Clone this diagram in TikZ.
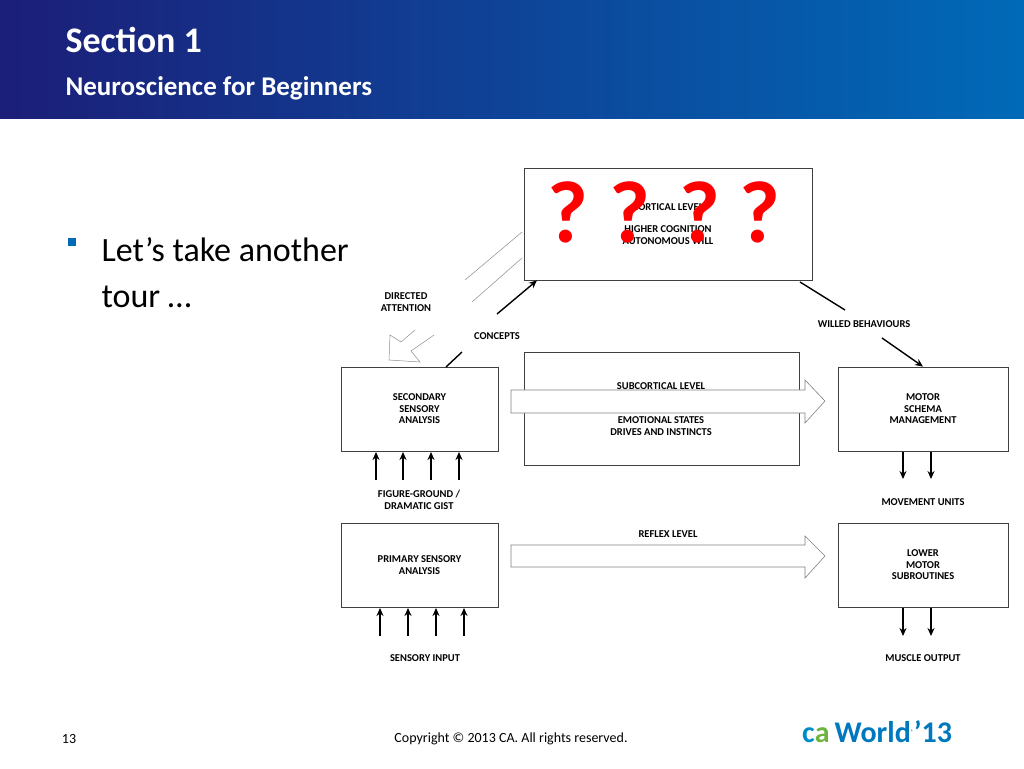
\documentclass[tikz,border=0pt]{standalone}
\usepackage{fontspec}
\setmainfont{Carlito}
\usetikzlibrary{arrows.meta}
\begin{document}
\begin{tikzpicture}[x=1pt,y=-1pt,
 box/.style={draw=black!75,line width=0.8pt},
 lbl/.style={font=\fontsize{10.5}{11.5}\selectfont\bfseries,align=center,inner sep=1pt},
 tip/.style={-{Stealth[length=8pt,width=7pt]},line width=1.4pt},
 small/.style={tip},
 hollow/.style={draw=black!50,fill=white,line width=0.6pt}]
\useasboundingbox (0,0) rectangle (1024,768);
\shade[left color={rgb,255:red,28;green,30;blue,120}, right color={rgb,255:red,0;green,106;blue,184}] (0,0) rectangle (1024,118);
\node[anchor=west,text=white,font=\fontsize{36}{40}\selectfont\bfseries] (t1) at (62,40) {Section 1};
\node[anchor=west,text=white,font=\fontsize{27}{30}\selectfont\bfseries] (t2) at (62,88) {Neuroscience for Beginners};
\fill[fill={rgb,255:red,0;green,106;blue,184}] (68,238) rectangle (76,246);
\node[anchor=north west,align=left,font=\fontsize{34}{46}\selectfont] (bul) at (98,234) {Let’s take another\\tour …};
% boxes
\node[box,minimum width=288,minimum height=112] (cort) at (668,224) {};
\node[lbl] (cortt) at (668,207) {CORTICAL LEVEL};
\node[lbl] (cortt2) at (668,235) {HIGHER COGNITION\\AUTONOMOUS WILL};
\node[box,minimum width=157,minimum height=84,lbl] (sec) at (419.5,409) {SECONDARY\\SENSORY\\ANALYSIS};
\node[box,minimum width=275,minimum height=113] (sub) at (661.5,408.5) {};
\node[box,minimum width=170,minimum height=84,lbl] (mot) at (923,409) {MOTOR\\SCHEMA\\MANAGEMENT};
\node[box,minimum width=157,minimum height=84,lbl] (pri) at (419.5,565) {PRIMARY SENSORY\\ANALYSIS};
\node[box,minimum width=170,minimum height=84,lbl] (low) at (923,565) {LOWER\\MOTOR\\SUBROUTINES};
% hollow arrows
\draw[hollow] (511,390) -- (805,390) -- (805,380) -- (825,401) -- (805,423) -- (805,413) -- (511,413) -- cycle;
\node[lbl] (subt) at (661,386) {SUBCORTICAL LEVEL};
\node[lbl] (subt2) at (661,426) {EMOTIONAL STATES\\DRIVES AND INSTINCTS};
\draw[hollow] (511,545) -- (805,545) -- (805,536) -- (825,556) -- (805,578) -- (805,567) -- (511,567) -- cycle;
\node[lbl] (refl) at (668,534) {REFLEX LEVEL};
% directed attention hollow arrow (partially visible)
\draw[black!45,line width=0.5pt] (465,280) -- (522,232) (472,302) -- (522,258);
\draw[black!45,line width=0.5pt] (415,330) -- (401,342) -- (390,335) -- (389,360) -- (420,362) -- (411,351) -- (434,335);
\node[lbl] (da) at (406,302) {DIRECTED\\ATTENTION};
% concepts
\coordinate (c1) at (446,367);
\coordinate (c2) at (462,352);
\coordinate (c3) at (497,314);
\draw[line width=1.4pt] (c1) -- (c2);
\draw[tip] (c3) -- (cort.south west -| 537,281);
\node[lbl] (con) at (497,336) {CONCEPTS};
% willed
\coordinate (w1) at (800,282);
\coordinate (w2) at (845,310);
\coordinate (w3) at (882,338);
\draw[line width=1.4pt] (w1) -- (w2);
\draw[tip] (w3) -- (mot.north);
\node[lbl] (wb) at (864,324) {WILLED BEHAVIOURS};
% small arrows
\foreach \x in {376,403,431,459} \draw[small] (\x,480) -- (\x,452);
\foreach \x in {380,408,436,464} \draw[small] (\x,636) -- (\x,608);
\foreach \x in {903,931} {\draw[small] (\x,452) -- (\x,479); \draw[small] (\x,608) -- (\x,636);}
\node[lbl] (fg) at (419,500) {FIGURE-GROUND /\\DRAMATIC GIST};
\node[lbl] (mu) at (923,502) {MOVEMENT UNITS};
\node[lbl] (si) at (425,658) {SENSORY INPUT};
\node[lbl] (mo) at (923,658) {MUSCLE OUTPUT};
% question marks
\foreach \x/\n in {568/q1,630/q2,700/q3,760/q4} \node[text=red,font=\fontsize{88}{88}\selectfont\bfseries] (\n) at (\x,212) {?};
% footer
\node[font=\fontsize{14}{16}\selectfont] (pg) at (69,739) {13};
\node[font=\fontsize{14}{16}\selectfont] (cp) at (511,739) {Copyright © 2013 CA. All rights reserved.};
\node[anchor=west,inner sep=0,font=\fontsize{30}{32}\selectfont\bfseries] (logo) at (802,732) {\textcolor[RGB]{0,140,200}{c}\textcolor[RGB]{110,180,60}{a}\textcolor[RGB]{0,120,190}{\,World\textsuperscript{\tiny ®}’13}};
\end{tikzpicture}
\end{document}
